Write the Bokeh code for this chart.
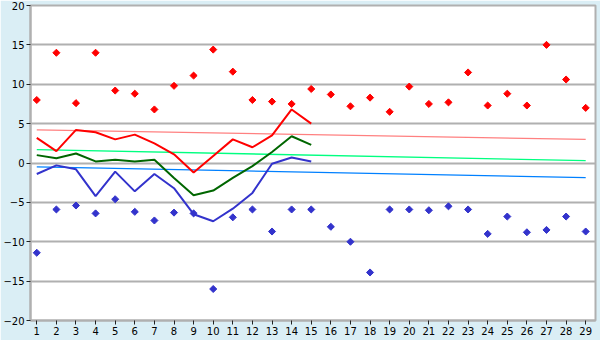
import math
from bokeh.plotting import figure
from bokeh.models import FixedTicker, Range1d
from bokeh.embed import file_html
from bokeh.resources import INLINE

# ---- data ----
days = list(range(1, 30))
tick_labels = [str(d) for d in days]
y_ticks = [-20, -15, -10, -5, 0, 5, 10, 15, 20]

max_record = [8.0, 14.0, 7.6, 14.0, 9.2, 8.8, 6.8, 9.8, 11.1, 14.4, 11.6, 8.0, 7.8, 7.5, 9.4,
              8.7, 7.2, 8.3, 6.5, 9.7, 7.5, 7.7, 11.5, 7.3, 8.8, 7.3, 15.0, 10.6, 7.0]
min_record = [-11.4, -5.9, -5.4, -6.4, -4.6, -6.2, -7.3, -6.3, -6.4, -16.0, -6.9, -5.9, -8.7, -5.9, -5.9,
              -8.1, -10.0, -13.9, -5.9, -5.9, -6.0, -5.5, -5.9, -9.0, -6.8, -8.8, -8.5, -6.8, -8.7]

cur_days = list(range(1, 16))
t_max = [3.2, 1.5, 4.2, 3.9, 3.0, 3.6, 2.5, 1.1, -1.2, 0.9, 3.0, 2.0, 3.5, 6.8, 5.0]
t_mean = [1.0, 0.6, 1.2, 0.2, 0.4, 0.2, 0.4, -1.9, -4.1, -3.5, -1.9, -0.4, 1.4, 3.4, 2.3]
t_min = [-1.4, -0.3, -0.8, -4.2, -1.1, -3.6, -1.4, -3.2, -6.5, -7.4, -5.8, -3.8, -0.1, 0.7, 0.2]

trend_days = [1, 29]
norm_max = [4.2, 3.0]
norm_mean = [1.7, 0.3]
norm_min = [-0.5, -1.85]

# ---- figure ----
BG = "#daeef5"
GRID = "#b0b0b0"
FONT = "DejaVu Sans"

p = figure(width=600, height=340, output_backend="svg", toolbar_location=None,
           x_range=Range1d(0.68, 29.5), y_range=Range1d(-20, 20),
           min_border_left=27, min_border_right=5, min_border_top=5, min_border_bottom=20)
p.background_fill_color = "white"
p.border_fill_color = BG
p.outline_line_color = GRID
p.outline_line_width = 2

p.xgrid.visible = False
p.ygrid.grid_line_color = GRID
p.ygrid.grid_line_width = 2
p.ygrid.ticker = FixedTicker(ticks=y_ticks)

for ax in (p.xaxis[0], p.yaxis[0]):
    ax.axis_line_color = GRID
    ax.axis_line_width = 2
    ax.major_tick_line_color = "#222222"
    ax.major_tick_out = 4
    ax.major_tick_in = 0
    ax.minor_tick_line_color = None
    ax.major_label_text_font = FONT
    ax.major_label_text_font_size = "10px"
    ax.major_label_text_color = "black"
    ax.major_label_standoff = 2

p.xaxis.ticker = FixedTicker(ticks=days)
p.xaxis.major_label_overrides = {d: l for d, l in zip(days, tick_labels)}
p.yaxis.ticker = FixedTicker(ticks=y_ticks)

# normal (trend) lines
p.line(trend_days, norm_max, line_color="#ff8080", line_width=1.3)
p.line(trend_days, norm_mean, line_color="#00ff80", line_width=1.3)
p.line(trend_days, norm_min, line_color="#0080ff", line_width=1.3)

# current lines
p.line(cur_days, t_max, line_color="#ff0000", line_width=2)
p.line(cur_days, t_mean, line_color="#006600", line_width=2)
p.line(cur_days, t_min, line_color="#3333cc", line_width=2)

# records
p.scatter(days, max_record, marker="square", angle=math.pi / 4, size=5,
          fill_color="#ff0000", line_color="#ff0000")
p.scatter(days, min_record, marker="square", angle=math.pi / 4, size=5,
          fill_color="#3333cc", line_color="#3333cc")

open("out.html", "w").write(file_html(p, INLINE))
